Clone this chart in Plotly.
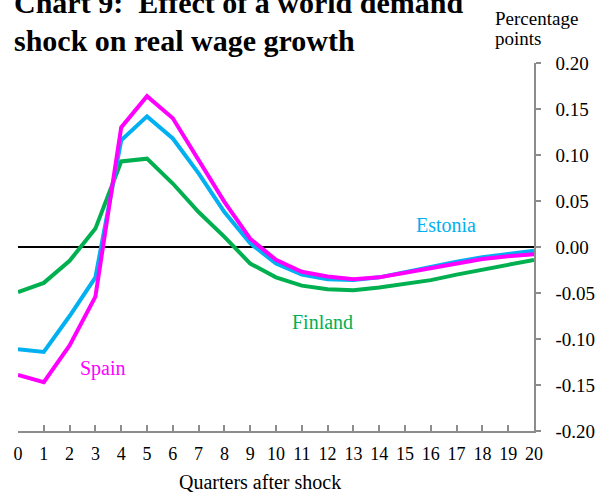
import plotly.graph_objects as go

quarters = list(range(21))
spain = [-0.139, -0.147, -0.107, -0.054, 0.130, 0.164, 0.140, 0.094, 0.049, 0.009,
         -0.014, -0.027, -0.032, -0.035, -0.033, -0.028, -0.023, -0.018, -0.013, -0.010, -0.008]
estonia = [-0.111, -0.114, -0.075, -0.033, 0.116, 0.142, 0.118, 0.080, 0.038, 0.004,
           -0.018, -0.030, -0.035, -0.036, -0.033, -0.027, -0.021, -0.016, -0.011, -0.008, -0.004]
finland = [-0.049, -0.039, -0.015, 0.020, 0.093, 0.096, 0.069, 0.038, 0.011, -0.018,
           -0.033, -0.042, -0.046, -0.047, -0.044, -0.040, -0.036, -0.030, -0.025, -0.019, -0.014]
ytick_vals = [0.20, 0.15, 0.10, 0.05, 0.00, -0.05, -0.10, -0.15, -0.20]
ytick_text = ["0.20", "0.15", "0.10", "0.05", "0.00", "-0.05", "-0.10", "-0.15", "-0.20"]

MAGENTA = "#FF00FF"
BLUE = "#00B0F0"
GREEN = "#00B050"
GRAY = "#8C8C8C"
SERIF = "Liberation Serif, Times New Roman, serif"

W, H = 596, 498
L, R, T, B = 18, 62, 63, 67
pw, ph = W - L - R, H - T - B

def px(x):
    return (x - L) / pw

def py(y):
    return (H - B - y) / ph

fig = go.Figure()
for name, vals, col in [("Finland", finland, GREEN), ("Estonia", estonia, BLUE), ("Spain", spain, MAGENTA)]:
    fig.add_trace(go.Scatter(x=quarters, y=vals, mode="lines", name=name,
                             line=dict(color=col, width=4), showlegend=False))

fig.update_layout(
    width=W, height=H,
    margin=dict(l=L, r=R, t=T, b=B, pad=0, autoexpand=False),
    paper_bgcolor="white", plot_bgcolor="white",
    font=dict(family=SERIF, size=18, color="black"),
    xaxis=dict(range=[0, 20], tickmode="array", tickvals=quarters,
               ticktext=[str(q) for q in quarters],
               showgrid=False, zeroline=False, showline=True, linecolor=GRAY, linewidth=1.5,
               ticks="inside", ticklen=6, tickcolor=GRAY, tickwidth=1.5,
               tickfont=dict(size=18), ticklabelstandoff=6),
    yaxis=dict(range=[-0.2, 0.2], side="right", tickmode="array",
               tickvals=ytick_vals, ticktext=ytick_text,
               showgrid=False, zeroline=True, zerolinecolor="black", zerolinewidth=2,
               showline=True, linecolor=GRAY, linewidth=1.5,
               ticks="outside", ticklen=5, tickcolor=GRAY, tickwidth=1.5,
               tickfont=dict(size=19), ticklabelstandoff=11),
)

anns = [
    dict(text="<b>Chart 9:  Effect of a world demand</b>", x=px(12), y=py(2), size=30, anchor="left"),
    dict(text="<b>shock on real wage growth</b>", x=px(12), y=py(40), size=30, anchor="left"),
    dict(text="Percentage", x=px(493), y=py(19), size=19, anchor="left"),
    dict(text="points", x=px(493), y=py(39), size=19, anchor="left"),
    dict(text="Quarters after shock", x=px(260), y=py(482), size=20, anchor="center"),
]
for a in anns:
    fig.add_annotation(text=a["text"], x=a["x"], y=a["y"], xref="paper", yref="paper",
                       xanchor=a["anchor"], yanchor="middle", showarrow=False,
                       font=dict(family=SERIF, size=a["size"], color="black"))

labels = [("Estonia", 16.6, 0.0234, BLUE), ("Finland", 11.8, -0.081, GREEN), ("Spain", 3.3, -0.132, MAGENTA)]
for text, lx, ly, col in labels:
    fig.add_annotation(text=text, x=lx, y=ly, xref="x", yref="y", showarrow=False,
                       xanchor="center", yanchor="middle",
                       font=dict(family=SERIF, size=20, color=col))

fig.write_html("out.html", config={"displayModeBar": False},
               post_script="document.body.style.margin='0';")
